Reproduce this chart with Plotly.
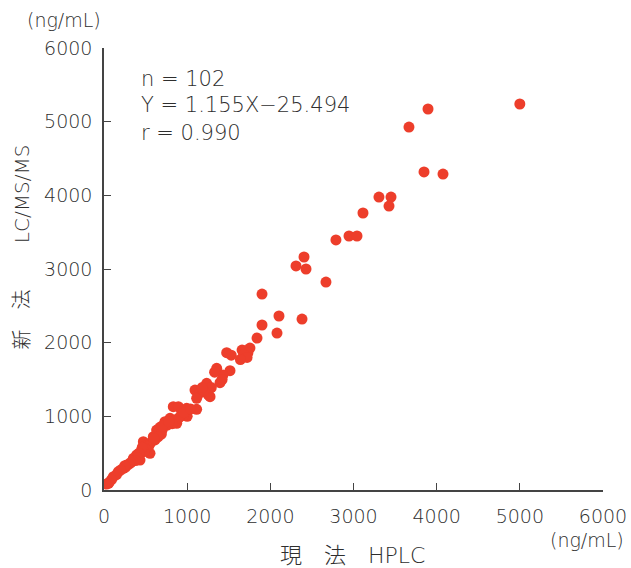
import plotly.graph_objects as go

# HPLC (current method) vs LC/MS/MS (new method), ng/mL
x_hplc = [
    5000, 3896, 3667, 3848, 4076, 3306, 3451, 3427, 3114, 2946, 3042, 2789,
    2405, 2309, 2429, 2669, 1900, 2104, 2381, 1900, 2080, 1840,
    1755, 1660, 1700, 1730, 1680, 1720, 1640, 1475, 1530, 1355, 1515, 1430,
    1395, 1235, 1094, 1154, 1254, 1275, 1114, 1330, 1290, 1200,
    833, 894, 994, 1114, 934, 794, 854, 733, 874, 673, 633, 593, 613, 473,
    513, 453, 553, 393, 353, 433, 273, 233, 173, 113, 53,
    1000, 950, 900, 820, 760, 700, 690, 650, 560, 540, 500, 480, 460, 420,
    400, 380, 340, 320, 300, 260, 250, 200, 150, 90, 60, 30, 700, 780, 960,
    1040, 1180, 1420, 600,
]
y_lcms = [
    5240, 5172, 4927, 4317, 4289, 3977, 3977, 3855, 3760, 3448, 3448, 3394,
    3163, 3041, 3000, 2823, 2660, 2362, 2321, 2240, 2131, 2063,
    1927, 1900, 1890, 1860, 1840, 1800, 1770, 1864, 1830, 1652, 1620, 1560,
    1457, 1448, 1357, 1317, 1290, 1267, 1245, 1600, 1390, 1350,
    1131, 1131, 1109, 1095, 1063, 973, 950, 927, 905, 851, 814, 724, 679, 656,
    611, 543, 498, 475, 430, 407, 339, 294, 249, 181, 90,
    1000, 1010, 980, 900, 880, 820, 760, 720, 640, 600, 560, 520, 580, 500,
    440, 400, 390, 370, 350, 310, 330, 270, 210, 140, 100, 80, 870, 930, 1050,
    1100, 1390, 1500, 700,
]

tick_vals = [0, 1000, 2000, 3000, 4000, 5000, 6000]
tick_text = ["0", "1000", "2000", "3000", "4000", "5000", "6000"]

stats_lines = ["n = 102", "Y = 1.155X−25.494", "r = 0.990"]
x_title = "現　法　HPLC"
y_title = "新　法　　 LC/MS/MS"
unit = "(ng/mL)"

FONT = "DejaVu Sans, Noto Sans CJK JP, sans-serif"
W = 300
TXT = "#2e2e2e"
AX = "#444444"

fig = go.Figure()
fig.add_trace(go.Scatter(
    x=x_hplc, y=y_lcms, mode="markers",
    marker=dict(size=11, color="#ED3E2B", line=dict(width=0)),
    showlegend=False, hoverinfo="x+y",
))

axis_common = dict(
    range=[0, 6000], tickvals=tick_vals, ticktext=tick_text,
    showgrid=False, zeroline=False, showline=True, linecolor=AX, linewidth=1.5,
    ticks="inside", ticklen=7, tickwidth=1.2, tickcolor=AX, automargin=False,
    tickfont=dict(family=FONT, size=19, color=TXT, weight=W),
)
fig.update_xaxes(**axis_common, ticklabelstandoff=8)
fig.update_yaxes(**axis_common, ticklabelstandoff=6)

ann = []
stat_y = [0.930, 0.871, 0.808]
for line, yy in zip(stats_lines, stat_y):
    ann.append(dict(
        x=0.070, y=yy, xref="paper", yref="paper",
        text=line, showarrow=False, xanchor="left", yanchor="middle",
        font=dict(family=FONT, size=21, color=TXT, weight=W),
    ))
ann.append(dict(x=-0.002, y=1.063, xref="paper", yref="paper", text=unit,
                showarrow=False, xanchor="right", yanchor="middle",
                font=dict(family=FONT, size=19, color=TXT, weight=W)))
ann.append(dict(x=1.046, y=-0.113, xref="paper", yref="paper", text=unit,
                showarrow=False, xanchor="right", yanchor="middle",
                font=dict(family=FONT, size=19, color=TXT, weight=W)))
ann.append(dict(x=0.497, y=-0.149, xref="paper", yref="paper", text=x_title,
                showarrow=False, xanchor="center", yanchor="middle",
                font=dict(family=FONT, size=22, color=TXT, weight=W)))
ann.append(dict(x=-0.164, y=0.549, xref="paper", yref="paper", text=y_title,
                showarrow=False, xanchor="center", yanchor="middle", textangle=-90,
                font=dict(family=FONT, size=20, color=TXT, weight=W)))

fig.update_layout(
    width=631, height=568,
    margin=dict(l=104, r=28, t=48, b=78),
    plot_bgcolor="white", paper_bgcolor="white",
    annotations=ann,
)

fig.write_html("out.html")
